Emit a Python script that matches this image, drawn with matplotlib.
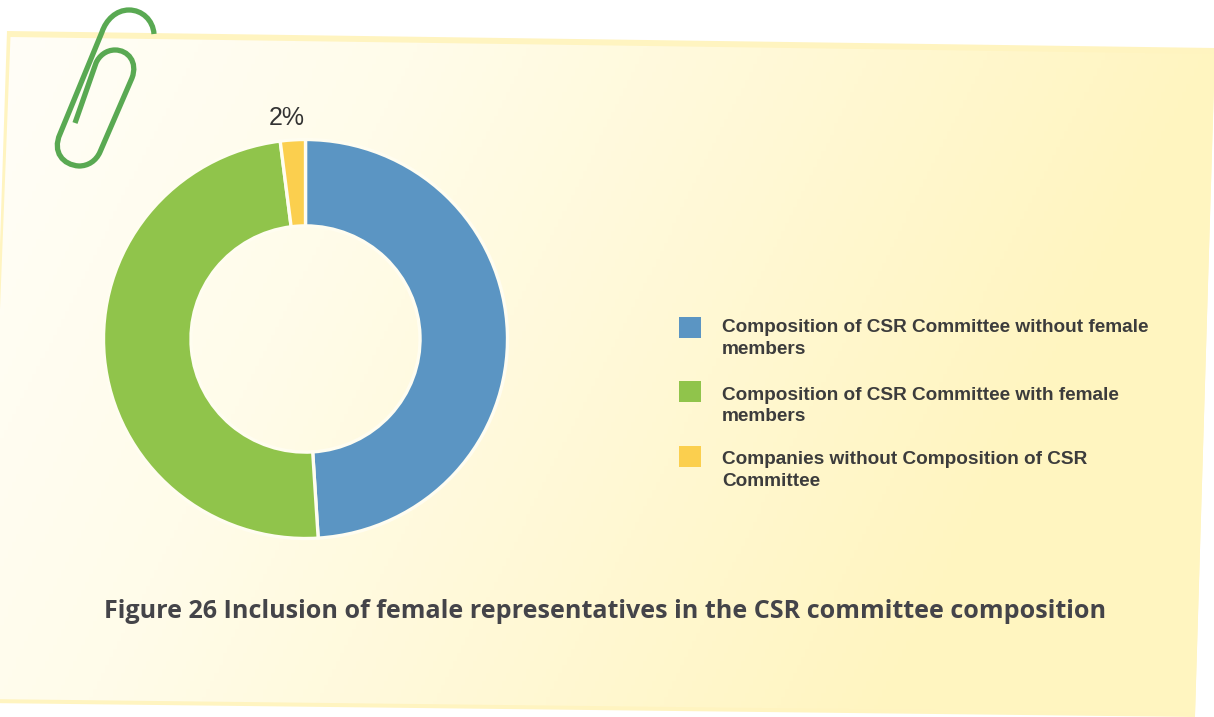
import numpy as np
import matplotlib
matplotlib.use('Agg')
import matplotlib.pyplot as plt
from matplotlib.colors import LinearSegmentedColormap
from matplotlib.patches import PathPatch, Polygon, Rectangle
from matplotlib.path import Path

# Chart data
labels = [
    'Composition of CSR Committee without female\nmembers',
    'Composition of CSR Committee with female\nmembers',
    'Companies without Composition of CSR\nCommittee',
]
values = [49, 49, 2]
colors = ['#5b95c3', '#90c44b', '#fbcf4e']
title = 'Figure 26 Inclusion of female representatives in the CSR committee composition'

W, H = 1214, 717
fig = plt.figure(figsize=(W / 100, H / 100), dpi=100, facecolor='white')

# Full-figure axes in pixel units for the note paper and the text
bg = fig.add_axes([0, 0, 1, 1])
bg.set_xlim(0, W)
bg.set_ylim(H, 0)
bg.axis('off')

# Paper border, then the gradient fill clipped to the inside of it
bg.add_patch(Polygon([(7, 31), (1215, 48), (1195, 717), (-15, 703)], fc='#fff4c0', ec='none'))
inner = Polygon([(10.5, 37), (1215, 54), (1195, 713), (-15, 699)], fc='none', ec='none')
bg.add_patch(inner)
xx, yy = np.meshgrid(np.linspace(0, W, 300), np.linspace(0, H, 180))
grad = np.clip((xx + 0.5 * yy) / 1250, 0, 1)
cmap = LinearSegmentedColormap.from_list(
    'paper', [(0, '#fffef8'), (0.35, '#fffcea'), (1, '#fff5c0')])
im = bg.imshow(grad, extent=(0, W, H, 0), cmap=cmap, aspect='auto', zorder=1)
im.set_clip_path(inner)

# Paper clip
clip_verts = [
    (154, 34), (153, 20), (142, 10), (129, 10), (116, 10), (106, 20), (102, 32),
    (60, 134), (52, 152), (63, 165), (79, 166), (88, 166), (96, 161), (100, 152),
    (132, 78), (138, 62), (128, 50), (115, 50), (106, 50), (99, 56), (96, 63),
    (75, 123),
]
clip_codes = [Path.MOVETO] + [Path.CURVE4] * 6 + [Path.LINETO] + [Path.CURVE4] * 6 \
    + [Path.LINETO] + [Path.CURVE4] * 6 + [Path.LINETO]
bg.add_patch(PathPatch(Path(clip_verts, clip_codes), fc='none', ec='#59a952', lw=3.8,
                       capstyle='butt', zorder=5))

# Donut, very slightly squashed vertically
cx, cy, rx, ry = 305.5, 339, 202, 199.5
ax = fig.add_axes([(cx - rx) / W, 1 - (cy + ry) / H, 2 * rx / W, 2 * ry / H], zorder=3)
ax.pie(values, colors=colors, startangle=90, counterclock=False, radius=1,
       wedgeprops=dict(width=0.433, edgecolor='#fffdf0', linewidth=2.4))
ax.set_xlim(-1, 1)
ax.set_ylim(-1, 1)
ax.set_aspect('auto')
ax.patch.set_visible(False)

# Value labels
label_pos = [(459, 377), (146, 332), (287, 118)]
for v, (x, y) in zip(values, label_pos):
    bg.text(x, y, f'{v}%', ha='center', va='center', fontsize=18,
            family='Liberation Sans', color='#333333', zorder=6)

# Legend
swatch_y = [317, 381, 446]
text_y = [338.5, 406, 470.5]
for lab, col, sy, ty in zip(labels, colors, swatch_y, text_y):
    bg.add_patch(Rectangle((679, sy), 22, 21, fc=col, ec='none', zorder=4))
    bg.text(722, ty, lab, ha='left', va='center', fontsize=13.7, fontweight='bold',
            family='Liberation Sans', color='#3c3c3c', linespacing=1.38, zorder=6)

# Caption
bg.text(605.5, 612, title, ha='center', va='center', fontsize=18.09, fontweight='bold',
        family='Open Sans', color='#444449', zorder=6)

fig.savefig('out.png', dpi=100, facecolor='white')
